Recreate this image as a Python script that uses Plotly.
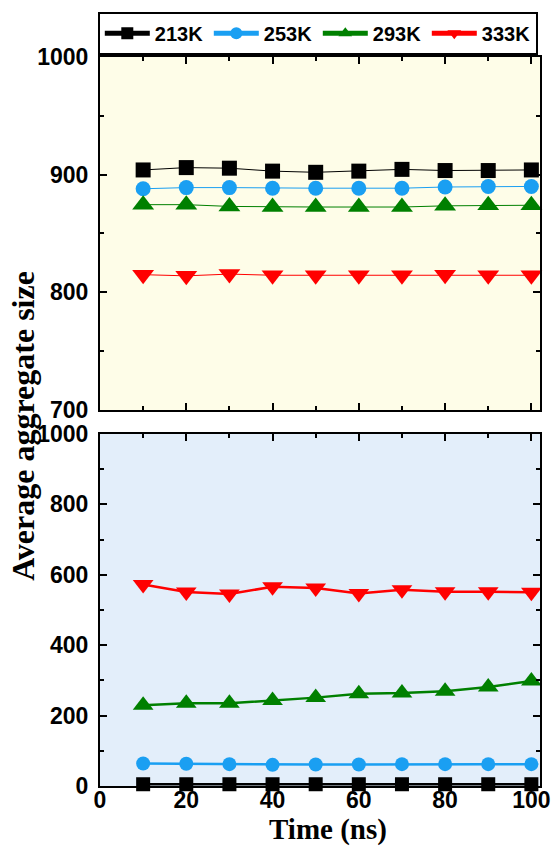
import plotly.graph_objects as go
from plotly.subplots import make_subplots

# Simulation time points (ns)
time_ns = [10, 20, 30, 40, 50, 60, 70, 80, 90, 100]

temperatures = ["213K", "253K", "293K", "333K"]

# Upper panel: average aggregate size (700-1000 window)
upper_213K = [904, 906, 905.5, 903, 902, 903, 904.5, 903.5, 903.5, 904]
upper_253K = [888, 889, 889, 888.5, 888.5, 888.5, 888.5, 889.5, 890, 890]
upper_293K = [874.5, 874.5, 873, 872.5, 872.5, 872.5, 872.5, 873.5, 874, 874]
upper_333K = [815, 814, 815.5, 814.5, 814.5, 814.5, 814.5, 815, 814.5, 814.5]

# Lower panel: average aggregate size (0-1000 window)
lower_213K = [5, 5, 5, 5, 5, 5, 5, 5, 5, 5]
lower_253K = [64, 63, 62, 60, 61, 61, 62, 62, 62, 62]
lower_293K = [229, 235, 235, 243, 251, 262, 264, 269, 281, 298]
lower_333K = [572, 551, 545, 566, 562, 547, 557, 552, 552, 550]

colors = ["#000000", "#1A9FF2", "#008000", "#FF0000"]
symbols = ["square", "circle", "triangle-up", "triangle-down"]
sizes = [15, 15, 19, 19]

upper = [upper_213K, upper_253K, upper_293K, upper_333K]
lower = [lower_213K, lower_253K, lower_293K, lower_333K]

fig = make_subplots(rows=2, cols=1, shared_xaxes=False, vertical_spacing=0.0)

for name, col, sym, sz, yu, yl in zip(temperatures, colors, symbols, sizes, upper, lower):
    fig.add_trace(go.Scatter(
        x=time_ns, y=yu, name=name, mode="lines+markers",
        line=dict(color=col, width=1),
        marker=dict(symbol=sym, size=sz, color=col),
        cliponaxis=False, showlegend=True,
    ), row=1, col=1)
    fig.add_trace(go.Scatter(
        x=time_ns, y=yl, name=name, mode="lines+markers",
        line=dict(color=col, width=2.5),
        marker=dict(symbol=sym, size=sz - 1, color=col),
        cliponaxis=False, showlegend=False,
    ), row=2, col=1)

tick_font = dict(family="Liberation Sans, Arial", size=23, color="black", weight="bold")
axis_common = dict(
    showline=True, linecolor="black", linewidth=2, mirror="allticks",
    ticks="inside", ticklen=7, tickwidth=2, tickcolor="black",
    showgrid=False, zeroline=False, tickfont=tick_font,
)

fig.update_xaxes(
    range=[0, 102], dtick=20, tick0=0, ticklabelstandoff=-8,
    minor=dict(ticks="inside", ticklen=4, tickwidth=1.5, tickcolor="black", dtick=10),
    **axis_common,
)
fig.update_xaxes(showticklabels=False, row=1, col=1)

fig.update_yaxes(
    range=[700, 1000], dtick=100, tick0=700, ticklabelstandoff=5,
    minor=dict(ticks="inside", ticklen=4, tickwidth=1.5, tickcolor="black", dtick=50),
    **axis_common, row=1, col=1,
)
fig.update_yaxes(
    range=[0, 1000], dtick=200, tick0=0, ticklabelstandoff=5,
    minor=dict(ticks="inside", ticklen=4, tickwidth=1.5, tickcolor="black", dtick=100),
    **axis_common, row=2, col=1,
)

fig.update_layout(
    xaxis=dict(domain=[0, 1]),
    xaxis2=dict(domain=[0, 1]),
    yaxis=dict(domain=[0.5158, 1.0]),
    yaxis2=dict(domain=[0.0, 0.483]),
)

fig.add_shape(type="rect", xref="x domain", yref="y domain", x0=0, x1=1, y0=0, y1=1,
              fillcolor="#FEFDE8", line_width=0, layer="below")
fig.add_shape(type="rect", xref="x2 domain", yref="y2 domain", x0=0, x1=1, y0=0, y1=1,
              fillcolor="#E3EEFA", line_width=0, layer="below")

title_font = dict(family="Liberation Serif, Times New Roman", size=32, color="black", weight="bold")
fig.add_annotation(text="Average aggregate size", xref="paper", yref="paper",
                   x=-0.175, y=0.494, textangle=-90, showarrow=False,
                   xanchor="center", yanchor="middle", font=title_font)
fig.add_annotation(text="Time (ns)", xref="paper", yref="paper",
                   x=0.518, y=-0.059, showarrow=False,
                   xanchor="center", yanchor="middle",
                   font=dict(title_font, size=29))

fig.update_layout(
    width=552, height=852,
    margin=dict(l=100, r=12, t=57, b=66, autoexpand=False),
    paper_bgcolor="white", plot_bgcolor="rgba(0,0,0,0)",
    legend=dict(
        orientation="h", x=-0.005, y=1.062, xanchor="left", yanchor="top",
        bgcolor="white", bordercolor="black", borderwidth=2,
        font=dict(family="Liberation Sans, Arial", size=20, color="black", weight="bold"),
        entrywidth=49, itemwidth=45, itemsizing="constant",
    ),
)

fig.write_html("out.html")
